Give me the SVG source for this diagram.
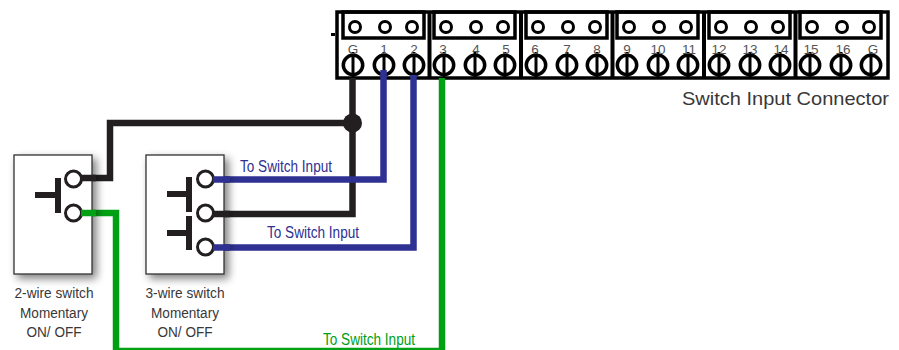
<svg xmlns="http://www.w3.org/2000/svg" width="899" height="350" viewBox="0 0 899 350">
<style>
.t{font-family:"Liberation Sans",Arial,sans-serif;fill:#3a3738}
.c{font-size:15.5px;text-anchor:middle}
.n{font-size:13.5px;text-anchor:middle;fill:#555}
.box{fill:#fff;stroke:#333;stroke-width:1.3;filter:url(#sh)}
.term{fill:#fff;stroke:#231f20;stroke-width:3}
.btn{fill:none;stroke:#231f20;stroke-width:6}
.w{fill:none;stroke-width:6.5;stroke-linejoin:miter}
.fr{fill:none;stroke:#000;stroke-width:3.5}
.dot{fill:#fff;stroke:#000;stroke-width:3}
.scr{fill:#fff;stroke:#000;stroke-width:3.5}
.bar{stroke:#000;stroke-width:3}
</style>
<defs>
<filter id="sh" x="-30%" y="-20%" width="170%" height="150%"><feGaussianBlur in="SourceAlpha" stdDeviation="4"/><feOffset dx="4" dy="4"/><feComponentTransfer><feFuncA type="linear" slope="0.5"/></feComponentTransfer><feMerge><feMergeNode/><feMergeNode in="SourceGraphic"/></feMerge></filter>
<g id="sc"><circle class="scr" r="9.7"/><line class="bar" y1="-13" y2="13"/></g>
<g id="mod"><rect class="fr" x="6" y="0" width="81" height="26"/>
<circle class="dot" cx="18" cy="15" r="5.5"/><circle class="dot" cx="48" cy="15" r="5.5"/><circle class="dot" cx="75" cy="15" r="5.5"/>
<use href="#sc" x="16" y="53"/><use href="#sc" x="47" y="53"/><use href="#sc" x="77" y="53"/></g>
</defs>
<g id="switch-input-connector">
<rect class="fr" x="337" y="12" width="551" height="66"/>
<path d="M429.500 12V78M521 12V78M612.500 12V78M704 12V78M795.500 12V78" stroke="#000" stroke-width="4"/>
<rect x="331" y="33" width="4" height="3" fill="#000"/>
<use href="#mod" x="337" y="12"/><use href="#mod" x="428" y="12"/><use href="#mod" x="520" y="12"/><use href="#mod" x="611" y="12"/><use href="#mod" x="703" y="12"/><use href="#mod" x="794" y="12"/>
<g class="t n">
<text x="353" y="54">G</text><text x="384" y="54">1</text><text x="414" y="54">2</text>
<text x="443" y="54">3</text><text x="476" y="54">4</text><text x="506" y="54">5</text>
<text x="535" y="54">6</text><text x="567" y="54">7</text><text x="597" y="54">8</text>
<text x="627" y="54">9</text><text x="658" y="54">10</text><text x="689" y="54">11</text>
<text x="719" y="54">12</text><text x="750" y="54">13</text><text x="781" y="54">14</text>
<text x="811" y="54">15</text><text x="843" y="54">16</text><text x="873" y="54">G</text>
</g>
<text class="t" x="682" y="105" font-size="19" textLength="207" lengthAdjust="spacingAndGlyphs">Switch Input Connector</text>
</g>
<g id="connectors">
<path class="w" stroke="#231f20" d="M352.500 78V214H213"/>
<path class="w" stroke="#231f20" d="M352.500 123H110V178H80"/>
<path class="w" stroke="#2e3192" d="M383.500 70V179.500H213"/>
<path class="w" stroke="#2e3192" d="M413.500 75V247.500H213"/>
<path class="w" stroke="#00a014" d="M442 78V351H116V213H80"/>
<circle cx="352.500" cy="123" r="9.500" fill="#231f20"/>
</g>
<g id="switch-2-wire">
<rect class="box" x="14" y="155" width="78" height="119"/>
<path class="btn" d="M35 195H58M58 178V213"/>
<circle class="term" cx="73.500" cy="179" r="8"/><circle class="term" cx="73.500" cy="213" r="8"/>
<path class="w" stroke="#231f20" d="M81 178H96"/><path class="w" stroke="#00a014" d="M81 213H96"/>
<g class="t c"><text x="54" y="298" textLength="79" lengthAdjust="spacingAndGlyphs">2-wire switch</text><text x="54" y="318" textLength="68" lengthAdjust="spacingAndGlyphs">Momentary</text><text x="54" y="337" textLength="55" lengthAdjust="spacingAndGlyphs">ON/ OFF</text></g>
</g>
<g id="switch-3-wire">
<rect class="box" x="146" y="155" width="78" height="119"/>
<path class="btn" d="M167 194H189M189 177V212M167 233H189M189 216V250"/>
<circle class="term" cx="205.500" cy="179" r="8"/><circle class="term" cx="205.500" cy="213" r="8"/><circle class="term" cx="205.500" cy="247" r="8"/>
<path class="w" stroke="#2e3192" d="M213 179.500H230"/><path class="w" stroke="#231f20" d="M213 214H230"/><path class="w" stroke="#2e3192" d="M213 247.500H230"/>
<g class="t c"><text x="185" y="298" textLength="79" lengthAdjust="spacingAndGlyphs">3-wire switch</text><text x="185" y="318" textLength="68" lengthAdjust="spacingAndGlyphs">Momentary</text><text x="185" y="337" textLength="55" lengthAdjust="spacingAndGlyphs">ON/ OFF</text></g>
</g>
<g id="labels">
<text class="t" x="240" y="172" font-size="16" textLength="92" lengthAdjust="spacingAndGlyphs" style="fill:#2e3192">To Switch Input</text>
<text class="t" x="267" y="238" font-size="16" textLength="92" lengthAdjust="spacingAndGlyphs" style="fill:#2e3192">To Switch Input</text>
<text class="t" x="323" y="345" font-size="16" textLength="92" lengthAdjust="spacingAndGlyphs" style="fill:#00a014">To Switch Input</text>
</g>
</svg>
